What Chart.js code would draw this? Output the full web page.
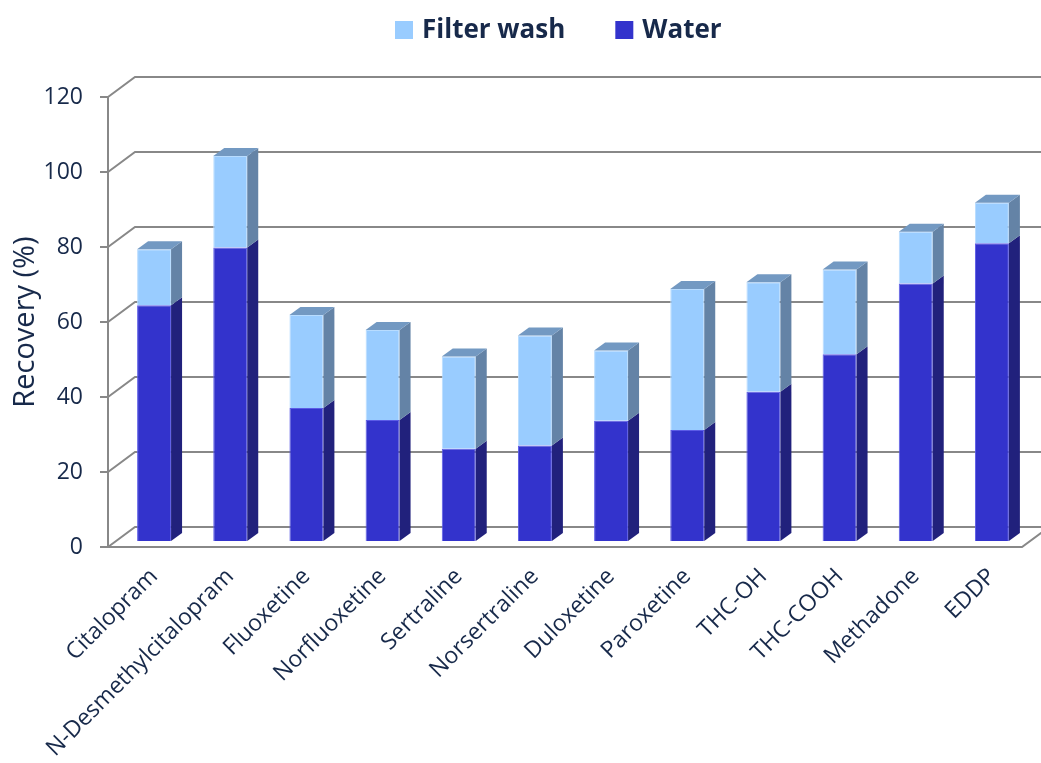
<!DOCTYPE html>
<html>
<head>
<meta charset="utf-8">
<title>Recovery</title>
<script src="https://cdn.jsdelivr.net/npm/chart.js@4.4.1/dist/chart.umd.min.js"></script>
<style>
  html, body { margin: 0; padding: 0; background: #fff; }
  #wrap { width: 1041px; height: 763px; }
</style>
</head>
<body>
<div id="wrap"><canvas id="recoveryChart"></canvas></div>
<script>
const categories = ['Citalopram', 'N-Desmethylcitalopram', 'Fluoxetine', 'Norfluoxetine', 'Sertraline',
    'Norsertraline', 'Duloxetine', 'Paroxetine', 'THC-OH', 'THC-COOH', 'Methadone', 'EDDP'];
const waterValues = [62.9, 78.3, 35.5, 32.3, 24.6, 25.5, 32.1, 29.6, 39.8, 49.8, 68.7, 79.4];
const filterWashValues = [14.9, 24.4, 24.8, 24.0, 24.6, 29.3, 18.7, 37.6, 29.2, 22.6, 13.8, 10.8];
const yTicks = [0, 20, 40, 60, 80, 100, 120];

const textColor = '#17294a';
const gridColor = '#888888';

// colours for front / side / top faces of each series
const faces = {
    'Water': { front: '#3333cc', side: '#21217c', top: '#2a2aa8', edge: '#5b5be6' },
    'Filter wash': { front: '#99ccff', side: '#6483a6', top: '#7399c2', edge: '#b8dcff' }
};

// perspective offsets: wall depth, bar position inside the box and bar depth
const WALL_DX = 27, WALL_DY = 20;
const BAR_SHIFT_X = 8, BAR_SHIFT_Y = 6;
const BAR_DX = 11, BAR_DY = 8;

const box3d = {
    id: 'box3d',
    beforeDatasetsDraw(chart) {
        const { ctx, chartArea: a, scales: { y } } = chart;
        ctx.save();
        ctx.strokeStyle = gridColor;
        ctx.lineWidth = 2;
        ctx.beginPath();
        yTicks.forEach(v => {
            const py = y.getPixelForValue(v);
            // left wall diagonal, then back wall line
            ctx.moveTo(a.left, py);
            ctx.lineTo(a.left + WALL_DX, py - WALL_DY);
            ctx.lineTo(chart.width, py - WALL_DY);
            // tick mark
            ctx.moveTo(a.left - 8, py);
            ctx.lineTo(a.left, py);
        });
        // floor front edge
        const p0 = y.getPixelForValue(0);
        ctx.moveTo(a.left, p0);
        ctx.lineTo(a.right, p0);
        ctx.lineTo(a.right + WALL_DX, p0 - WALL_DY);
        // front vertical axis
        ctx.moveTo(a.left, y.getPixelForValue(yTicks[yTicks.length - 1]));
        ctx.lineTo(a.left, p0);
        ctx.stroke();
        ctx.restore();

        // bars sit a little behind the front plane
        ctx.save();
        ctx.translate(BAR_SHIFT_X, -BAR_SHIFT_Y);
    },
    afterDatasetsDraw(chart) {
        const { ctx } = chart;
        const last = chart.data.datasets.length - 1;
        chart.data.datasets.forEach((ds, di) => {
            const f = faces[ds.label];
            chart.getDatasetMeta(di).data.forEach(bar => {
                const { x, y, base, width } = bar.getProps(['x', 'y', 'base', 'width'], true);
                const left = x - width / 2, right = x + width / 2;
                ctx.fillStyle = f.side;
                ctx.beginPath();
                ctx.moveTo(right, y);
                ctx.lineTo(right + BAR_DX, y - BAR_DY);
                ctx.lineTo(right + BAR_DX, base - BAR_DY);
                ctx.lineTo(right, base);
                ctx.closePath();
                ctx.fill();
                if (di === last) {
                    ctx.fillStyle = f.top;
                    ctx.beginPath();
                    ctx.moveTo(left, y);
                    ctx.lineTo(left + BAR_DX, y - BAR_DY);
                    ctx.lineTo(right + BAR_DX, y - BAR_DY);
                    ctx.lineTo(right, y);
                    ctx.closePath();
                    ctx.fill();
                }
            });
        });
        ctx.restore();
    },
    afterDraw(chart) {
        // legend: top series first
        const { ctx } = chart;
        ctx.save();
        ctx.font = 'bold 26px "Open Sans"';
        ctx.textBaseline = 'middle';
        let x = 395;
        const cy = 30;
        chart.data.datasets.slice().reverse().forEach(ds => {
            ctx.fillStyle = faces[ds.label].front;
            ctx.fillRect(x, cy - 9, 18, 18);
            x += 27;
            ctx.fillStyle = textColor;
            ctx.fillText(ds.label, x, cy + 1);
            x += ctx.measureText(ds.label).width + 50;
        });
        ctx.restore();
    }
};

new Chart(document.getElementById('recoveryChart'), {
    type: 'bar',
    data: {
        labels: categories,
        datasets: [{
            label: 'Water',
            data: waterValues,
            backgroundColor: faces['Water'].front,
            borderColor: faces['Water'].edge,
            borderWidth: 1,
            clip: false
        }, {
            label: 'Filter wash',
            data: filterWashValues,
            backgroundColor: faces['Filter wash'].front,
            borderColor: faces['Filter wash'].edge,
            borderWidth: 1,
            clip: false
        }]
    },
    options: {
        responsive: true,
        maintainAspectRatio: false,
        animation: false,
        layout: { padding: { top: 97, right: 19, left: 0, bottom: 0 } },
        datasets: {
            bar: { categoryPercentage: 1, barPercentage: 0.446 }
        },
        plugins: {
            legend: { display: false },
            tooltip: { enabled: false }
        },
        scales: {
            x: {
                stacked: true,
                grid: { display: false },
                border: { display: false },
                ticks: {
                    color: textColor,
                    font: { family: 'Open Sans', size: 23 },
                    minRotation: 45,
                    maxRotation: 45,
                    labelOffset: BAR_SHIFT_X,
                    padding: 8,
                    autoSkip: false
                },
                afterFit(scale) { scale.height = 216; }
            },
            y: {
                stacked: true,
                min: yTicks[0],
                max: yTicks[yTicks.length - 1],
                grid: { display: false },
                border: { display: false },
                ticks: {
                    stepSize: yTicks[1] - yTicks[0],
                    color: textColor,
                    font: { family: 'Open Sans', size: 23 },
                    padding: 17
                },
                title: {
                    display: true,
                    text: 'Recovery (%)',
                    color: textColor,
                    font: { family: 'Open Sans', size: 29 },
                    padding: { top: 8, bottom: 0 }
                },
                afterFit(scale) { scale.width = 108; }
            }
        }
    },
    plugins: [box3d]
});
</script>
</body>
</html>
